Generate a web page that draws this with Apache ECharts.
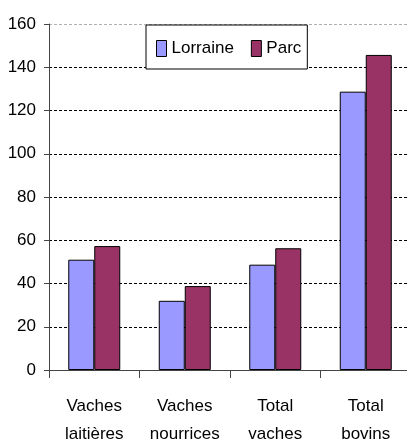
<!DOCTYPE html>
<html>
<head>
<meta charset="utf-8">
<script src="https://cdn.jsdelivr.net/npm/echarts@6/dist/echarts.min.js"></script>
<style>
  html, body { margin: 0; padding: 0; background: #fff; }
  #chart { width: 407px; height: 448px; }
</style>
</head>
<body>
<div id="chart"></div>
<script>
// values
const categories = ['Vaches\nlaitières', 'Vaches\nnourrices', 'Total\nvaches', 'Total\nbovins'];
const lorraine = [51, 32, 48.7, 128.7];
const parc = [57.3, 38.8, 56.3, 145.7];
const yTicks = { min: 0, max: 160, interval: 20 };

const font = '"Liberation Sans", Arial, sans-serif';

let myChart = echarts.init(document.getElementById('chart'), null, { renderer: 'canvas' });

// dashed grid, top line lighter like the plot border
let gridColors = [];
for (let v = yTicks.min; v <= yTicks.max; v += yTicks.interval) {
  gridColors.push(v === yTicks.max ? '#b0b0b0' : '#000');
}

let options = {
  animation: false,
  backgroundColor: '#fff',
  // plot runs a little past the right edge, as in the original
  grid: { left: 49, top: 24, width: 362, height: 346, containLabel: false, outerBoundsMode: 'none' },
  legend: {
    left: 146,
    top: 25,
    orient: 'horizontal',
    data: ['Lorraine', 'Parc'],
    icon: 'rect',
    itemWidth: 10,
    itemHeight: 16,
    itemGap: 17,
    padding: [15, 6, 12, 10],
    borderColor: '#000',
    borderWidth: 1,
    backgroundColor: '#fff',
    itemStyle: { borderColor: '#000', borderWidth: 1 },
    textStyle: { fontFamily: font, fontSize: 17, color: '#000' }
  },
  xAxis: {
    type: 'category',
    data: categories,
    axisLine: { lineStyle: { color: '#444', width: 1 } },
    axisTick: { show: true, length: 8, lineStyle: { color: '#444' } },
    axisLabel: {
      interval: 0,
      margin: 22,
      color: '#000',
      fontFamily: font,
      fontSize: 17,
      lineHeight: 28
    }
  },
  yAxis: {
    type: 'value',
    min: yTicks.min,
    max: yTicks.max,
    interval: yTicks.interval,
    axisLine: { show: true, lineStyle: { color: '#444', width: 1 } },
    axisTick: { show: true, length: 5, lineStyle: { color: '#444' } },
    axisLabel: { margin: 13, color: '#000', fontFamily: font, fontSize: 17 },
    splitLine: { show: true, lineStyle: { color: gridColors, type: [3, 2], width: 1 } }
  },
  series: [
    {
      name: 'Lorraine',
      type: 'bar',
      data: lorraine,
      barWidth: 26,
      barGap: '0%',
      itemStyle: { color: '#9999ff', borderColor: '#000', borderWidth: 1 }
    },
    {
      name: 'Parc',
      type: 'bar',
      data: parc,
      barWidth: 26,
      itemStyle: { color: '#993366', borderColor: '#000', borderWidth: 1 }
    }
  ]
};

myChart.setOption(options);
</script>
</body>
</html>
